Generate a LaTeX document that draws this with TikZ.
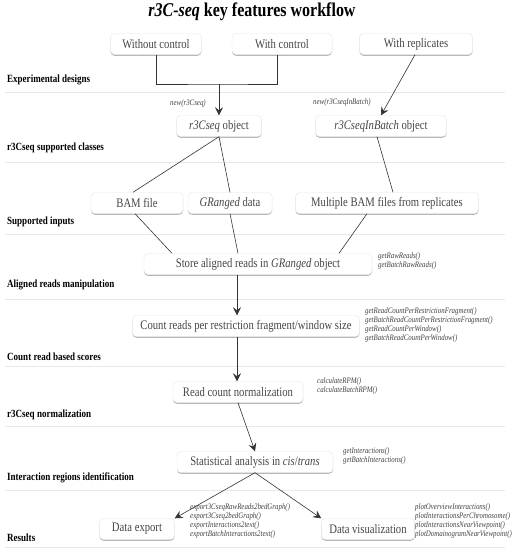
\documentclass[tikz,border=0pt]{standalone}
\usepackage{fontspec}
\setmainfont{Liberation Serif}[FakeStretch=0.82]
\usepackage{tikz}
\usetikzlibrary{arrows.meta,positioning,shadows}
\definecolor{boxtext}{RGB}{70,70,70}
\definecolor{rulegray}{RGB}{232,232,232}
\tikzset{
  stage/.style={rectangle, rounded corners=4pt, draw=gray!20, fill=white,
                drop shadow={shadow xshift=0pt, shadow yshift=-1.3pt, fill=gray!70, opacity=0.8},
                minimum height=21pt, inner xsep=8pt, inner ysep=2pt,
                text=boxtext, font=\fontsize{13}{14}\selectfont},
  method/.style={anchor=west, align=left, text=black!75,
                 font=\fontsize{8.4}{9.2}\selectfont\itshape, inner sep=0pt},
  section/.style={anchor=west, font=\fontsize{11}{13}\selectfont\bfseries, inner sep=0pt},
  link/.style={draw=black!80, line width=0.6pt},
  arrow/.style={link, -{Stealth[length=8pt,width=8pt,inset=3pt]}},
  sepline/.style={draw=rulegray, line width=1pt}
}
\begin{document}
\begin{tikzpicture}[x=1pt, y=-1pt]
\useasboundingbox (0,0) rectangle (520,557);
% title
\node[font=\fontsize{19.5}{23}\selectfont\bfseries] (title) at (252,12)
  {\textit{r3C-seq} key features workflow};

% section rules and labels
\foreach \y in {92,162,234,299,366,426,490,547}
  \draw[sepline] (5,\y) -- (505,\y);
\node[section] (lbldesign) at (7,80)  {Experimental designs};
\node[section] (lblclass)  at (7,148) {r3Cseq supported classes};
\node[section] (lblinput)  at (7,222) {Supported inputs};
\node[section] (lblalign)  at (7,285) {Aligned reads manipulation};
\node[section] (lblcount)  at (7,357) {Count read based scores};
\node[section] (lblnorm)   at (7,415) {r3Cseq normalization};
\node[section] (lblinter)  at (7,478) {Interaction regions identification};
\node[section] (lblresult) at (7,538) {Results};

% experimental designs
\node[stage, minimum width=91pt]  (noctrl) at (156,44) {Without control};
\node[stage, minimum width=100pt] (ctrl)   at (282,44) {With control};
\node[stage, minimum width=113pt] (repl)   at (416,44) {With replicates};

% classes
\node[stage, minimum width=85pt]  (single) at (219,126) {\textit{r3Cseq} object};
\node[stage, minimum width=131pt] (batch)  at (381,126) {\textit{r3CseqInBatch} object};

% inputs
\node[stage, minimum width=92pt]  (bam)    at (137,203) {BAM file};
\node[stage, minimum width=84pt]  (gr)     at (230,203) {\textit{GRanged} data};
\node[stage, minimum width=183pt] (multi)  at (387,203) {Multiple BAM files from replicates};

% processing chain
\node[stage, minimum width=228pt] (store)  at (258,264) {Store aligned reads in \textit{GRanged} object};
\node[stage, minimum width=223pt] (count)  at (246,326) {Count reads per restriction fragment/window size};
\node[stage, minimum width=130pt] (norm)   at (238,392) {Read count normalization};
\node[stage, minimum width=156pt] (stat)   at (255,462) {Statistical analysis in \textit{cis}/\textit{trans}};
\node[stage, minimum width=75pt]  (export) at (137,529) {Data export};
\node[stage, minimum width=90pt]  (visual) at (368,529) {Data visualization};

% function names
\node[method] (mnew)   at (170,103) {new(r3Cseq)};
\node[method] (mbatch) at (313,102) {new(r3CseqInBatch)};
\node[method] (mraw)   at (378,261) {getRawReads()\\getBatchRawReads()};
\node[method] (mcount) at (365,325) {getReadCountPerRestrictionFragment()\\getBatchReadCountPerRestrictionFragment()\\getReadCountPerWindow()\\getBatchReadCountPerWindow()};
\node[method] (mrpm)   at (317,386) {calculateRPM()\\calculateBatchRPM()};
\node[method] (minter) at (343,456) {getInteractions()\\getBatchInteractions()};
\node[method] (mexp)   at (190,521) {export3CseqRawReads2bedGraph()\\export3Cseq2bedGraph()\\exportInteractions2text()\\exportBatchInteractions2text()};
\node[method] (mplot)  at (415,521) {plotOverviewInteractions()\\plotInteractionsPerChromosome()\\plotInteractionsNearViewpoint()\\plotDomainogramNearViewpoint()};

% connectors
\coordinate (join) at (219,84);
\draw[link] (noctrl.south) |- (join) -| (ctrl.south -| 277,0);
\draw[arrow] (join) -- (single.north);
\draw[arrow] (repl.south) ++(-1,0) -- (batch.north);
\draw[link] (single.south) -- (bam.north -| 133,0);
\draw[link] (single.south) -- (gr.north);
\draw[link] (batch.south -| 377,0) -- (multi.north -| 393,0);
\draw[link] (bam.south -| 135,0) -- (store.north -| 172,0);
\draw[link] (gr.south) -- (store.north -| 238,0);
\draw[link] (multi.south -| 367,0) -- (store.north -| 339,0);
\draw[arrow] (store.south -| 237,0) -- (count.north -| 237,0);
\draw[arrow] (count.south -| 237,0) -- (norm.north -| 237,0);
\draw[arrow] (norm.south) -- (stat.north);
\draw[arrow] (stat.south) -- (export.north east);
\draw[arrow] (stat.south) -- (visual.north west);
\end{tikzpicture}
\end{document}
